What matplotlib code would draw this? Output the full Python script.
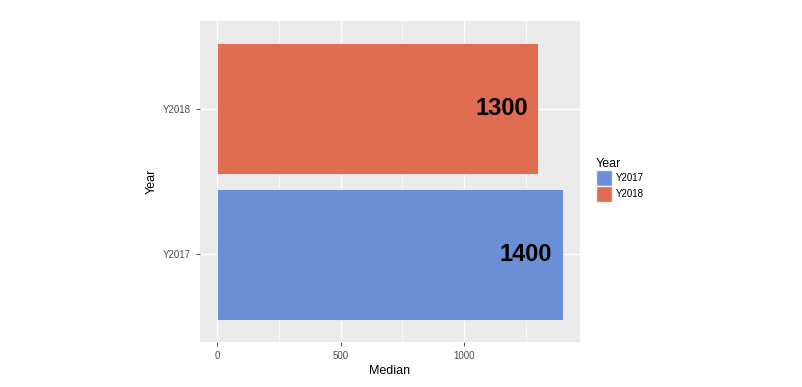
import matplotlib.pyplot as plt
from matplotlib.patches import Patch

plt.rcParams['font.family'] = ['Liberation Sans', 'DejaVu Sans']

# data
years = ['Y2017', 'Y2018']
medians = [1400, 1300]
colors = ['#6A8FD6', '#E06C52']

fig = plt.figure(figsize=(8.03, 3.87), dpi=100)
ax = fig.add_axes([200 / 803, 1 - 342 / 387, 380 / 803, 321 / 387])
ax.set_facecolor('#EBEBEB')

pos = list(range(1, len(years) + 1))
ax.barh(pos, medians, height=0.9, color=colors, edgecolor='#F2F2F2', linewidth=0.6, zorder=3)

for p, v in zip(pos, medians):
    ax.annotate(str(v), xy=(v, p), xytext=(-7.5, 0), textcoords='offset points',
                ha='right', va='center', fontsize=17, fontweight='bold', color='black', zorder=4)

xmax = max(medians)
ax.set_xlim(-0.05 * xmax, 1.05 * xmax)
ax.set_ylim(0.4, len(years) + 0.6)
ax.set_xticks([0, 500, 1000])
ax.set_xticks([250, 750, 1250], minor=True)
ax.set_yticks(pos)
ax.set_yticklabels(years)

ax.grid(which='major', color='white', linewidth=1.0, zorder=0)
ax.grid(which='minor', axis='x', color='white', linewidth=0.5, zorder=0)
ax.set_axisbelow(True)
for s in ax.spines.values():
    s.set_visible(False)
ax.tick_params(which='major', colors='#333333', labelcolor='#4D4D4D', labelsize=7, length=3, width=0.6)
ax.tick_params(which='minor', length=0)

ax.set_xlabel('Median', fontsize=9, labelpad=3)
ax.set_ylabel('Year', fontsize=9, labelpad=4)

handles = [Patch(facecolor=c, edgecolor='#F2F2F2', label=y) for c, y in zip(colors, years)]
leg = fig.legend(handles=handles, title='Year', loc='upper left', bbox_to_anchor=(592 / 803, 1 - 154 / 387),
                 frameon=False, fontsize=7, title_fontsize=9, handlelength=1.65, handleheight=2.2,
                 handletextpad=0.4, labelspacing=0.0, borderaxespad=0)
leg._legend_box.align = 'left'

fig.savefig('out.png', dpi=100)
